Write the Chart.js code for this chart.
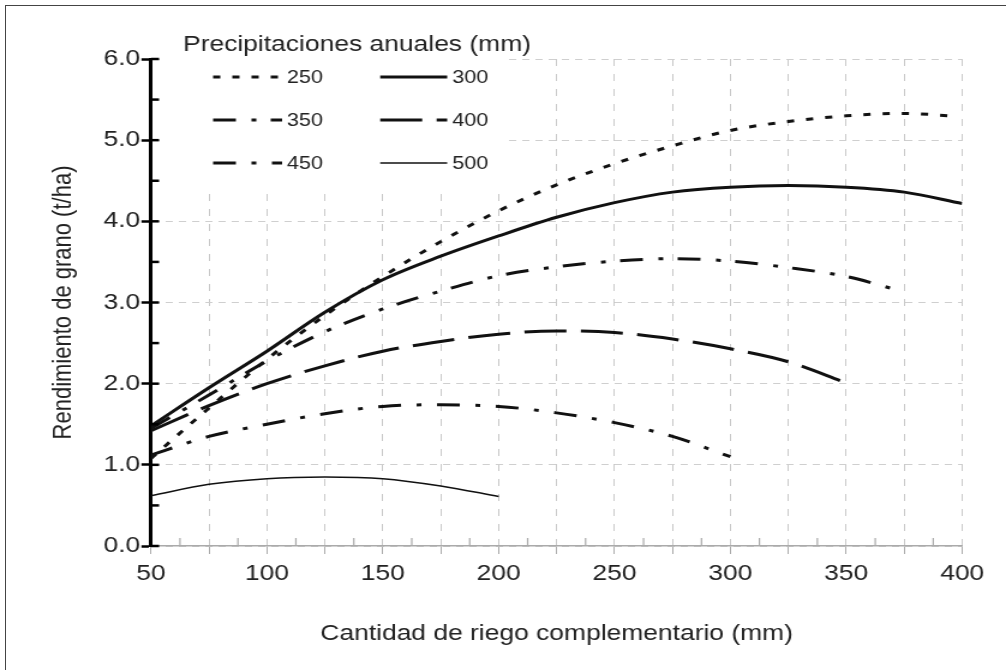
<!DOCTYPE html>
<html>
<head>
<meta charset="utf-8">
<script src="https://cdn.jsdelivr.net/npm/chart.js@4.4.0/dist/chart.umd.min.js"></script>
<style>
  html, body { margin: 0; padding: 0; background: #fff; overflow: hidden; }
  #wrap { position: relative; width: 1006px; height: 670px; overflow: hidden; }
  #frame { position: absolute; left: 5px; top: 5px; width: 1100px; height: 800px; border: 1px solid #444; }
  canvas { position: absolute; left: 0; top: 0; }
</style>
</head>
<body>
<div id="wrap">
  <div id="frame"></div>
  <canvas id="myChart" width="838" height="670" style="width:1006px;height:670px"></canvas>
</div>
<script>
// precipitation levels (mm) - one curve each
const rainLabels = ['250', '300', '350', '400', '450', '500'];

// irrigation amounts (mm)
const riego = [50, 75, 100, 125, 150, 175, 200, 225, 250, 275, 300, 325, 350, 375, 400];
const x250 = [50, 75, 100, 125, 150, 175, 200, 225, 250, 275, 300, 325, 350, 375, 395];
const x350 = [50, 75, 100, 125, 150, 175, 200, 225, 250, 275, 300, 325, 350, 370];

// grain yield (t/ha)
const y250 = [1.08, 1.70, 2.30, 2.84, 3.32, 3.75, 4.13, 4.45, 4.71, 4.93, 5.12, 5.23, 5.30, 5.33, 5.30];
const y300 = [1.48, 1.95, 2.40, 2.88, 3.28, 3.57, 3.82, 4.05, 4.23, 4.36, 4.42, 4.44, 4.42, 4.36, 4.22];
const y350 = [1.45, 1.86, 2.28, 2.64, 2.92, 3.14, 3.33, 3.44, 3.51, 3.54, 3.51, 3.43, 3.32, 3.17];
const y400 = [1.42, 1.73, 2.00, 2.22, 2.40, 2.52, 2.61, 2.65, 2.63, 2.55, 2.43, 2.27, 2.01];
const y450 = [1.12, 1.35, 1.50, 1.63, 1.72, 1.74, 1.72, 1.64, 1.52, 1.35, 1.10];
const y500 = [0.62, 0.76, 0.83, 0.85, 0.83, 0.74, 0.61];

const yTicks = [0, 1, 2, 3, 4, 5, 6];

function pts(xs, ys) {
  return ys.map((v, i) => ({ x: xs[i], y: v }));
}

const FONT = '"Liberation Sans", Arial, sans-serif';
const INK = '#111';

const lineStyles = [
  { w: 3, dash: [6, 10] },
  { w: 3, dash: [] },
  { w: 3, dash: [19, 13, 4, 12] },
  { w: 3, dash: [35, 12] },
  { w: 3, dash: [19, 13, 4, 13] },
  { w: 1.5, dash: [] }
];

const seriesData = [pts(x250, y250), pts(riego, y300), pts(x350, y350),
                    pts(riego, y400), pts(riego, y450), pts(riego, y500)];

const datasets = seriesData.map((d, i) => ({
  label: rainLabels[i],
  data: d,
  borderColor: INK,
  borderWidth: lineStyles[i].w,
  borderDash: lineStyles[i].dash,
  pointRadius: 0,
  fill: false,
  cubicInterpolationMode: 'monotone'
}));

// white legend box with title and two columns of samples
const legendBox = {
  id: 'legendBox',
  beforeDatasetsDraw(chart) {
    const ctx = chart.ctx;
    ctx.save();
    ctx.fillStyle = '#fff';
    ctx.fillRect(138, 52, 281, 134);
    ctx.fillStyle = '#222';
    ctx.font = '22px ' + FONT;
    ctx.textBaseline = 'alphabetic';
    ctx.fillText('Precipitaciones anuales (mm)', 152.5, 51);
    ctx.font = '18px ' + FONT;
    ctx.textBaseline = 'middle';
    chart.data.datasets.forEach((ds, i) => {
      const col = i % 2, row = Math.floor(i / 2);
      const x1 = col ? 316.7 : 177.5;
      const x2 = col ? 372.5 : 235;
      const y = 77 + row * 43;
      ctx.strokeStyle = INK;
      ctx.lineWidth = ds.borderWidth;
      ctx.setLineDash(ds.borderDash);
      ctx.beginPath();
      ctx.moveTo(x1, y);
      ctx.lineTo(x2, y);
      ctx.stroke();
      ctx.setLineDash([]);
      ctx.fillText(ds.label, col ? 376.7 : 239, y + 1);
    });
    ctx.restore();
  }
};

// inner stubs on the y axis and minor ticks on the x axis
const axisMarks = {
  id: 'axisMarks',
  afterDraw(chart) {
    const ctx = chart.ctx;
    const xs = chart.scales.x, ys = chart.scales.y;
    const left = chart.chartArea.left, bottom = chart.chartArea.bottom;
    ctx.save();
    ctx.strokeStyle = '#000';
    ctx.lineWidth = 2.5;
    for (let v = 0; v <= 6; v += 0.5) {
      const y = ys.getPixelForValue(v);
      ctx.beginPath();
      ctx.moveTo(left, y);
      ctx.lineTo(left + 6.7, y);
      ctx.stroke();
    }
    ctx.strokeStyle = '#aaa';
    ctx.lineWidth = 1.2;
    for (let v = 62.5; v < 400; v += 25) {
      const x = xs.getPixelForValue(v);
      ctx.beginPath();
      ctx.moveTo(x, bottom);
      ctx.lineTo(x, bottom - 8);
      ctx.stroke();
    }
    ctx.restore();
  }
};

const ctx = document.getElementById('myChart');

new Chart(ctx, {
  type: 'line',
  data: { datasets: datasets },
  plugins: [legendBox, axisMarks],
  options: {
    responsive: false,
    animation: false,
    devicePixelRatio: 1,
    layout: { padding: { top: 59, right: 36.5, left: 0, bottom: 0 } },
    plugins: { legend: { display: false }, tooltip: { enabled: false } },
    scales: {
      x: {
        type: 'linear',
        min: 50,
        max: 400,
        afterFit: s => { s.height = 124; },
        ticks: {
          stepSize: 25,
          padding: 7,
          color: '#222',
          font: { family: FONT, size: 22 },
          maxRotation: 0,
          autoSkip: false,
          callback: v => (v % 50 === 0 ? String(v) : '')
        },
        grid: { color: '#c8c8c8', lineWidth: 1, tickLength: 8, tickColor: '#aaa' },
        border: { color: '#aaa', width: 1.5, dash: [7, 8] },
        title: {
          display: true,
          text: 'Cantidad de riego complementario (mm)',
          color: '#222',
          font: { family: FONT, size: 22 },
          padding: { top: 0, bottom: 23 }
        }
      },
      y: {
        min: 0,
        max: 6,
        afterFit: s => { s.width = 125.8; },
        afterBuildTicks: s => { s.ticks = yTicks.map(v => ({ value: v })); },
        ticks: {
          padding: 1,
          color: '#222',
          font: { family: FONT, size: 22 },
          callback: v => v.toFixed(1)
        },
        grid: { color: '#cfcfcf', lineWidth: 1, tickLength: 8, tickColor: '#000', tickWidth: 2.5 },
        border: { color: '#000', width: 3, dash: [6, 5] },
        title: {
          display: true,
          text: 'Rendimiento de grano (t/ha)',
          color: '#222',
          font: { family: FONT, size: 22 },
          padding: { top: 40, bottom: 0 }
        }
      }
    }
  }
});
</script>
</body>
</html>
